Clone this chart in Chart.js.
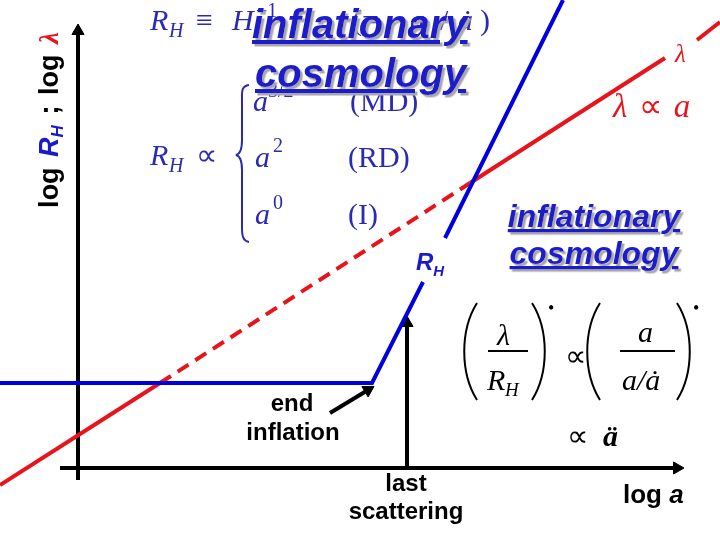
<!DOCTYPE html>
<html>
<head>
<meta charset="utf-8">
<script src="https://cdn.jsdelivr.net/npm/chart.js@4"></script>
<style>
  html, body { margin: 0; background: #fff; }
  #wrap { position: relative; width: 720px; height: 540px; }
  #wrap canvas, #wrap svg { position: absolute; left: 0; top: 0; }
  svg { pointer-events: none; }
  .sans { font-family: 'Liberation Sans', Arial, sans-serif; }
  .serif { font-family: 'Liberation Serif', 'Times New Roman', serif; }
</style>
</head>
<body>
<div id="wrap">
<canvas id="c" width="720" height="540"></canvas>
<svg width="720" height="540">
  <defs>
    <filter id="shadow" x="-5%" y="-5%" width="115%" height="130%">
      <feDropShadow dx="2.5" dy="2.5" stdDeviation="0.3" flood-color="#a8a8a8"/>
    </filter>
  </defs>

  <!-- vertical axis title -->
  <text class="sans" font-weight="bold" font-size="27" word-spacing="3" transform="translate(58,120) rotate(-90)" text-anchor="middle">log <tspan fill="#1a1ac8" font-style="italic">R</tspan><tspan fill="#1a1ac8" font-style="italic" font-size="17" dy="5">H</tspan><tspan dy="-5"> ; log </tspan><tspan class="serif" fill="#e8141c" font-style="italic">λ</tspan></text>

  <!-- Hubble radius formula -->
  <g class="serif" fill="#2a2ab4" font-size="30">
    <text x="150" y="30" font-style="italic">R</text>
    <text x="169" y="37" font-style="italic" font-size="20">H</text>
    <text x="196" y="30">≡</text>
    <text x="232" y="30" font-style="italic">H</text>
    <text x="256" y="17" font-size="20">−1</text>
    <text x="352" y="30">(=</text>
    <text x="410" y="30" font-style="italic">a</text>
    <text x="440" y="30">/</text>
    <text x="458" y="30" font-style="italic">ȧ</text>
    <text x="480" y="30">)</text>

    <text x="253" y="111" font-style="italic">a</text>
    <text x="268" y="97" font-size="20">3/2</text>
    <text x="350" y="111">(MD)</text>

    <text x="150" y="165" font-style="italic">R</text>
    <text x="169" y="172" font-style="italic" font-size="20">H</text>
    <text x="196" y="165">∝</text>
    <text x="255" y="167" font-style="italic">a</text>
    <text x="273" y="152" font-size="20">2</text>
    <text x="348" y="167">(RD)</text>

    <text x="255" y="224" font-style="italic">a</text>
    <text x="273" y="209" font-size="20">0</text>
    <text x="348" y="224">(I)</text>
  </g>
  <path d="M249 85 C241 86 242 92 242 100 L242 140 C242 150 240 154 236 155 C240 156 242 160 242 170 L242 228 C242 236 243 241 249 242" fill="none" stroke="#2a2ab4" stroke-width="2"/>

  <!-- big overlapping title -->
  <g class="sans" font-weight="bold" font-style="italic" font-size="40" fill="#1a1acc" text-decoration="underline" filter="url(#shadow)">
    <text x="252" y="38">inflationary</text>
    <text x="255" y="87">cosmology</text>
  </g>

  <!-- right-hand title -->
  <g class="sans" font-weight="bold" font-style="italic" font-size="32" fill="#1a1acc" text-decoration="underline" text-anchor="middle" filter="url(#shadow)">
    <text x="594" y="227">inflationary</text>
    <text x="594" y="264">cosmology</text>
  </g>

  <!-- line labels -->
  <text class="sans" font-weight="bold" font-style="italic" font-size="24" fill="#1a1acc" x="416" y="270">R<tspan font-size="15" dy="6">H</tspan></text>
  <text class="serif" font-style="italic" font-size="25" fill="#e8141c" x="675" y="62">λ</text>
  <text class="serif" font-size="33" word-spacing="3" fill="#e8141c" x="613" y="117"><tspan font-style="italic">λ</tspan> ∝ <tspan font-style="italic">a</tspan></text>

  <!-- ratio formula -->
  <g class="serif" font-size="30" fill="#000">
    <text x="497" y="345" font-style="italic">λ</text>
    <text x="487" y="390" font-style="italic">R</text>
    <text x="505" y="396" font-style="italic" font-size="19">H</text>
    <text x="548" y="314" font-size="18">•</text>
    <text x="565" y="366">∝</text>
    <text x="638" y="342" font-style="italic">a</text>
    <text x="622" y="390" font-style="italic">a/ȧ</text>
    <text x="693" y="314" font-size="18">•</text>
    <text x="567" y="446">∝</text>
    <text x="603" y="446" font-style="italic" font-weight="bold">ä</text>
  </g>
  <g fill="none" stroke="#000" stroke-width="2">
    <path d="M477 303 C460 330 460 373 477 400"/>
    <path d="M532 303 C549 330 549 373 532 400"/>
    <path d="M600 303 C583 330 583 373 600 400"/>
    <path d="M677 303 C694 330 694 373 677 400"/>
    <path d="M488 351 H528"/>
    <path d="M620 351 H675"/>
  </g>

  <!-- annotations -->
  <g class="sans" font-weight="bold" font-size="24" fill="#000" text-anchor="middle">
    <text x="292" y="411">end</text>
    <text x="293" y="440">inflation</text>
    <text x="406" y="491">last</text>
    <text x="406" y="519">scattering</text>
  </g>
  <text class="sans" font-weight="bold" font-size="26" x="623" y="503">log <tspan font-style="italic">a</tspan></text>
</svg>
</div>
<script>
// Horizon vs. wavelength sketch, in "log a" units (1 unit = 10 px, origin at the axes' corner)
const xRange = [-7.8, 64.2];
const yRange = [-7.2, 46.8];

// red: wavelength lambda ~ a (dashed between the two crossings, gap for the label)
const lambdaLogA = [-7.8, 8.2, 39.2, 58.7, 60.3, 61.9, 64.2];
const lambdaLog  = [-1.7, 8.5, 28.5, 41.0, null, 42.8, 44.6];

// blue: Hubble radius R_H (flat during inflation, then rising; gap for the label)
const horizonLogA = [-7.8, 29.4, 34.5, 35.6, 36.7, 48.5];
const horizonLog  = [8.5, 8.5, 18.6, null, 23.0, 46.8];

// axes and arrows
const xAxisLogA = [-1.8, 59.9];
const xAxisLog  = [0, 0];
const yAxisLogA = [0, 0];
const yAxisLog  = [-1.2, 43.7];
const lastScatLogA = [32.9, 32.9];
const lastScatLog  = [0, 14.5];
const endInflLogA = [25.2, 29.0];
const endInflLog  = [5.5, 7.8];

function pts(xs, ys) {
    return xs.map((x, i) => ({ x: x, y: ys[i] }));
}

function arrow(xs, ys, rotation, order) {
    return {
        data: pts(xs, ys),
        showLine: true,
        borderColor: '#000',
        borderWidth: 4,
        pointStyle: 'triangle',
        pointRadius: [0, 7],
        pointRotation: rotation,
        pointBackgroundColor: '#000',
        pointBorderColor: '#000',
        pointBorderWidth: 1,
        order: order
    };
}

const ctx = document.getElementById('c').getContext('2d');
new Chart(ctx, {
    type: 'scatter',
    data: {
        datasets: [
            {
                data: pts(lambdaLogA, lambdaLog),
                showLine: true,
                borderColor: '#e8141c',
                borderWidth: 4,
                pointRadius: 0,
                spanGaps: false,
                segment: {
                    borderDash: c => c.p0DataIndex === 1 ? [13, 8] : undefined
                },
                order: 2
            },
            {
                data: pts(horizonLogA, horizonLog),
                showLine: true,
                borderColor: '#0000dc',
                borderWidth: 4,
                pointRadius: 0,
                spanGaps: false,
                order: 1
            },
            arrow(xAxisLogA, xAxisLog, 90, 5),
            arrow(yAxisLogA, yAxisLog, 0, 5),
            arrow(lastScatLogA, lastScatLog, 0, 3),
            arrow(endInflLogA, endInflLog, 59, 3)
        ]
    },
    options: {
        responsive: false,
        animation: false,
        devicePixelRatio: 1,
        layout: { padding: 0, autoPadding: false },
        plugins: {
            legend: { display: false },
            tooltip: { enabled: false }
        },
        scales: {
            x: { type: 'linear', display: false, min: xRange[0], max: xRange[1] },
            y: { type: 'linear', display: false, min: yRange[0], max: yRange[1] }
        }
    }
});
</script>
</body>
</html>
